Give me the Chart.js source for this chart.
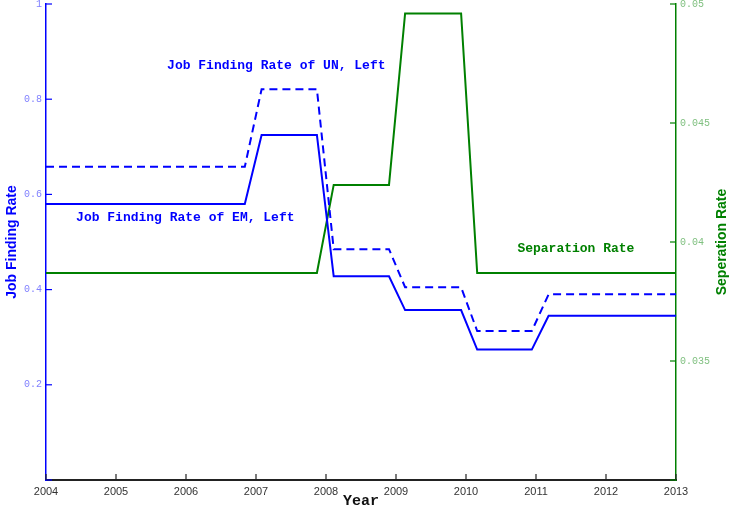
<!DOCTYPE html>
<html>
<head>
<meta charset="utf-8">
<script src="https://cdn.jsdelivr.net/npm/chart.js@4.4.1/dist/chart.umd.min.js"></script>
<style>
  body { margin: 0; background: #fff; }
  canvas { display: block; }
</style>
</head>
<body>
<canvas id="mychart" width="730" height="508"></canvas>
<script>
// data
let years = [2004, 2006.84, 2007.08, 2007.87, 2008.11, 2008.90, 2009.13, 2009.93, 2010.16, 2010.94, 2011.18, 2013];
let jfr_em = [0.58, 0.58, 0.725, 0.725, 0.428, 0.428, 0.357, 0.357, 0.274, 0.274, 0.345, 0.345];
let jfr_un = [0.658, 0.658, 0.821, 0.821, 0.485, 0.485, 0.405, 0.405, 0.313, 0.313, 0.39, 0.39];
let sep_rate = [0.0387, 0.0387, 0.0387, 0.0387, 0.0424, 0.0424, 0.0496, 0.0496, 0.0387, 0.0387, 0.0387, 0.0387];

let label_text = ['Job Finding Rate of UN, Left', 'Job Finding Rate of EM, Left', 'Separation Rate'];
let label_x = [2007.29, 2005.99, 2011.57];
let label_y = [0.87, 0.55, 0.0397];
let label_axis = ['y', 'y', 'y1'];
let label_color = ['#0000ff', '#0000ff', '#008000'];

function pontos(vals){
    let out = [];
    for (let i = 0; i < years.length; i++){
        out.push({x: years[i], y: vals[i]});
    }
    return out;
}

// ticks pointing into the plot, text labels and axis titles
let extras = {
    id: 'extras',
    afterDraw(chart){
        let c = chart.ctx;
        let a = chart.chartArea;
        let sx = chart.scales.x, sy = chart.scales.y, sy1 = chart.scales.y1;
        c.save();
        c.lineWidth = 1.2;
        c.strokeStyle = '#0000ff';
        sy.ticks.forEach(t => {
            let p = sy.getPixelForValue(t.value);
            c.beginPath(); c.moveTo(a.left, p); c.lineTo(a.left + 6, p); c.stroke();
        });
        c.strokeStyle = '#008000';
        sy1.ticks.forEach(t => {
            let p = sy1.getPixelForValue(t.value);
            c.beginPath(); c.moveTo(a.right, p); c.lineTo(a.right - 6, p); c.stroke();
        });
        c.strokeStyle = '#222';
        sx.ticks.forEach(t => {
            let p = sx.getPixelForValue(t.value);
            c.beginPath(); c.moveTo(p, a.bottom); c.lineTo(p, a.bottom - 6); c.stroke();
        });

        c.font = 'bold 13px "Liberation Mono"';
        c.textAlign = 'center';
        c.textBaseline = 'middle';
        for (let i = 0; i < label_text.length; i++){
            c.fillStyle = label_color[i];
            let px = sx.getPixelForValue(label_x[i]);
            let py = chart.scales[label_axis[i]].getPixelForValue(label_y[i]);
            c.fillText(label_text[i], px, py);
        }

        c.fillStyle = '#111';
        c.font = 'bold 15px "Liberation Mono"';
        c.fillText('Year', (a.left + a.right) / 2, 501);

        c.font = 'bold 14px "Liberation Sans"';
        c.fillStyle = '#0000ff';
        c.translate(12, (a.top + a.bottom) / 2);
        c.rotate(-Math.PI / 2);
        c.fillText('Job Finding Rate', 0, 0);
        c.setTransform(1, 0, 0, 1, 0, 0);
        c.fillStyle = '#008000';
        c.translate(722, (a.top + a.bottom) / 2);
        c.rotate(-Math.PI / 2);
        c.fillText('Seperation Rate', 0, 0);
        c.restore();
    }
};

function grafico(ctx){
    let datasets = [
        {
            label: 'EM',
            data: pontos(jfr_em),
            yAxisID: 'y',
            borderColor: '#0000ff',
            borderWidth: 2,
            pointRadius: 0,
            tension: 0
        },
        {
            label: 'UN',
            data: pontos(jfr_un),
            yAxisID: 'y',
            borderColor: '#0000ff',
            borderWidth: 2,
            borderDash: [8, 5],
            pointRadius: 0,
            tension: 0
        },
        {
            label: 'Separation',
            data: pontos(sep_rate),
            yAxisID: 'y1',
            borderColor: '#008000',
            borderWidth: 2,
            pointRadius: 0,
            tension: 0
        }
    ];

    return new Chart(ctx, {
        type: 'line',
        data: {datasets: datasets},
        options: {
            responsive: false,
            animation: false,
            layout: {padding: {top: 4, left: 0, right: 0, bottom: 0}},
            plugins: {legend: {display: false}, tooltip: {enabled: false}},
            scales: {
                x: {
                    type: 'linear',
                    min: 2004,
                    max: 2013,
                    grid: {drawOnChartArea: false, drawTicks: false},
                    border: {color: '#222', width: 2},
                    ticks: {
                        stepSize: 1,
                        padding: 5,
                        color: '#333',
                        font: {family: '"Liberation Sans"', size: 11},
                        callback: v => String(v)
                    },
                    afterFit: s => { s.height = 28; }
                },
                y: {
                    position: 'left',
                    min: 0,
                    max: 1,
                    grid: {drawOnChartArea: false, drawTicks: false},
                    border: {color: '#0000ff', width: 1.5},
                    ticks: {
                        stepSize: 0.2,
                        padding: 4,
                        color: '#8080ff',
                        font: {family: '"Liberation Mono"', size: 10},
                        callback: v => v === 0 ? '' : String(parseFloat(v.toFixed(2)))
                    },
                    afterFit: s => { s.width = 46; s.paddingTop = 0; s.paddingBottom = 0; }
                },
                y1: {
                    position: 'right',
                    min: 0.03,
                    max: 0.05,
                    grid: {drawOnChartArea: false, drawTicks: false},
                    border: {color: '#008000', width: 1.5},
                    ticks: {
                        stepSize: 0.005,
                        padding: 4,
                        color: '#80c080',
                        font: {family: '"Liberation Mono"', size: 10},
                        callback: v => Math.abs(v - 0.03) < 1e-9 ? '' : String(parseFloat(v.toFixed(3)))
                    },
                    afterFit: s => { s.width = 54; s.paddingTop = 0; s.paddingBottom = 0; }
                }
            }
        },
        plugins: [extras]
    });
}

let ctx = document.getElementById('mychart');
let chart = grafico(ctx);
</script>
</body>
</html>
